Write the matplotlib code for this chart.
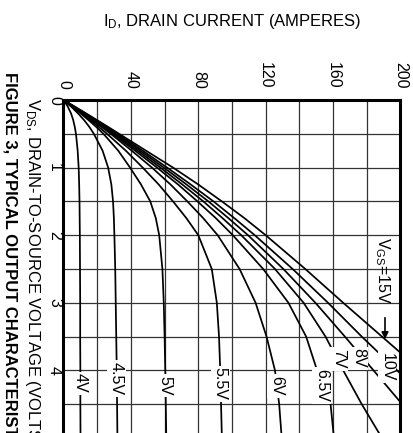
import numpy as np
import matplotlib.pyplot as plt

plt.rcParams['font.family'] = ['Liberation Sans', 'DejaVu Sans']
plt.rcParams['mathtext.default'] = 'regular'

# V_DS points (volts) and I_D for each V_GS curve (amperes)
vds = [0, 0.1, 0.2, 0.3, 0.4, 0.5, 0.75, 1.0, 1.25, 1.5, 1.75, 2.0, 2.5, 3.0, 3.5, 4.0, 4.5, 5.0]
id_4v = [0, 2.6, 4.5, 5.8, 6.7, 7.4, 8.4, 9.0, 9.3, 9.5, 9.6, 9.7, 9.8, 9.9, 9.9, 10.0, 10.0, 10.1]
id_45v = [0, 4.6, 8.7, 12.3, 15.4, 18.0, 23.2, 26.5, 28.4, 29.4, 29.9, 30.2, 30.7, 31.0, 31.3, 31.6, 31.8, 32.0]
id_5v = [0, 5.2, 10.2, 15.0, 19.5, 23.7, 32.5, 39.5, 46.0, 51.5, 54.8, 56.8, 58.7, 59.5, 60.0, 60.4, 60.7, 61.0]
id_55v = [0, 5.5, 10.8, 16.0, 21.0, 25.8, 37.0, 47.0, 56.5, 65.0, 73.0, 80.0, 88.0, 91.0, 92.3, 93.0, 93.5, 94.0]
id_6v = [0, 5.8, 11.5, 17.1, 22.6, 28.0, 40.5, 52.5, 63.5, 73.5, 83.0, 91.5, 104.5, 114.0, 120.5, 125.5, 128.0, 129.5]
id_65v = [0, 6.0, 11.9, 17.7, 23.4, 29.0, 42.5, 55.5, 68.0, 79.5, 90.5, 100.5, 118.5, 133.5, 144.0, 150.5, 158.5, 160.5]
id_7v = [0, 6.2, 12.3, 18.3, 24.2, 30.0, 44.0, 57.5, 70.5, 83.0, 94.5, 105.5, 125.5, 142.5, 155.5, 166.0, 177.0, 189.0]
id_8v = [0, 6.4, 12.7, 18.9, 25.0, 31.0, 45.5, 59.5, 73.0, 86.0, 98.0, 109.5, 130.5, 149.5, 167.0, 184.0, 201.0, 218.0]
id_10v = [0, 6.6, 13.1, 19.5, 25.8, 32.0, 47.0, 61.5, 75.5, 89.0, 101.5, 113.5, 136.0, 157.0, 177.0, 198.0, 218.0, 238.0]
id_15v = [0, 6.8, 13.5, 20.1, 26.6, 33.0, 49.0, 65.0, 80.0, 94.0, 107.5, 120.0, 143.5, 166.0, 189.0, 212.0, 234.0, 256.0]

curves = [id_4v, id_45v, id_5v, id_55v, id_6v, id_65v, id_7v, id_8v, id_10v, id_15v]

# curve labels: text, I_D, V_DS
lab_text = ['4V', '4.5V', '5V', '5.5V', '6V', '6.5V', '7V', '8V', '10V']
lab_id = [9.8, 31.5, 60, 93, 126.5, 153, 163, 175, 192]
lab_vds = [4.19, 4.12, 4.22, 4.2, 4.23, 4.22, 3.83, 3.82, 3.95]

id_ticks = [0, 40, 80, 120, 160, 200]
vds_ticks = [0, 1, 2, 3, 4]

W, H = 414, 433
fig = plt.figure(figsize=(W / 100, H / 100), dpi=100)
ax = fig.add_axes([63.5 / W, (H - 438) / H, 337 / W, 338 / H])

for c in curves:
    ax.plot(c, vds, color='black', lw=1.25, zorder=3)

ax.set_xlim(0, 200)
ax.set_ylim(5, 0)
ax.xaxis.tick_top()
ax.set_xticks(id_ticks, [str(t) for t in id_ticks], rotation=270, fontsize=11.5)
ax.set_xticks(np.arange(0, 201, 20), minor=True)
ax.set_yticks(vds_ticks, [str(t) for t in vds_ticks], rotation=270, va='center', fontsize=11.5)
ax.set_yticks(np.arange(0, 5.01, 0.5), minor=True)
ax.tick_params(which='both', length=0)
ax.tick_params(axis='x', pad=8)
ax.tick_params(axis='y', pad=1)
ax.grid(which='both', color='#333333', lw=0.9)
ax.set_axisbelow(True)
for s in ax.spines.values():
    s.set_linewidth(2.2)
    s.set_zorder(6)

for t, x, y in zip(lab_text, lab_id, lab_vds):
    ax.text(x, y, t, rotation=270, ha='center', va='center', fontsize=11.5, zorder=5,
            bbox=dict(boxstyle='square,pad=0.12', fc='white', ec='none'))

ax.text(189.4, 2.03, r'V$_{GS}$=15V', rotation=270, ha='center', va='top', fontsize=11.5, zorder=5)
ax.annotate('', xy=(190.8, 3.58), xytext=(190.8, 3.18),
            arrowprops=dict(arrowstyle='-|>', color='black', lw=1.2, mutation_scale=10), zorder=5)

fig.text(103 / W, 1 - 26 / H, r'I$_D$, DRAIN CURRENT (AMPERES)', ha='left', va='baseline', fontsize=12)
fig.text(32 / W, 1 - 98 / H, r'V$_{DS}$, DRAIN-TO-SOURCE VOLTAGE (VOLTS)', rotation=270,
         ha='center', va='top', fontsize=12)
fig.text(10 / W, 1 - 72 / H, 'FIGURE 3, TYPICAL OUTPUT CHARACTERISTICS', rotation=270,
         ha='center', va='top', fontsize=12, fontweight='bold')

fig.savefig('out.png', dpi=100)
